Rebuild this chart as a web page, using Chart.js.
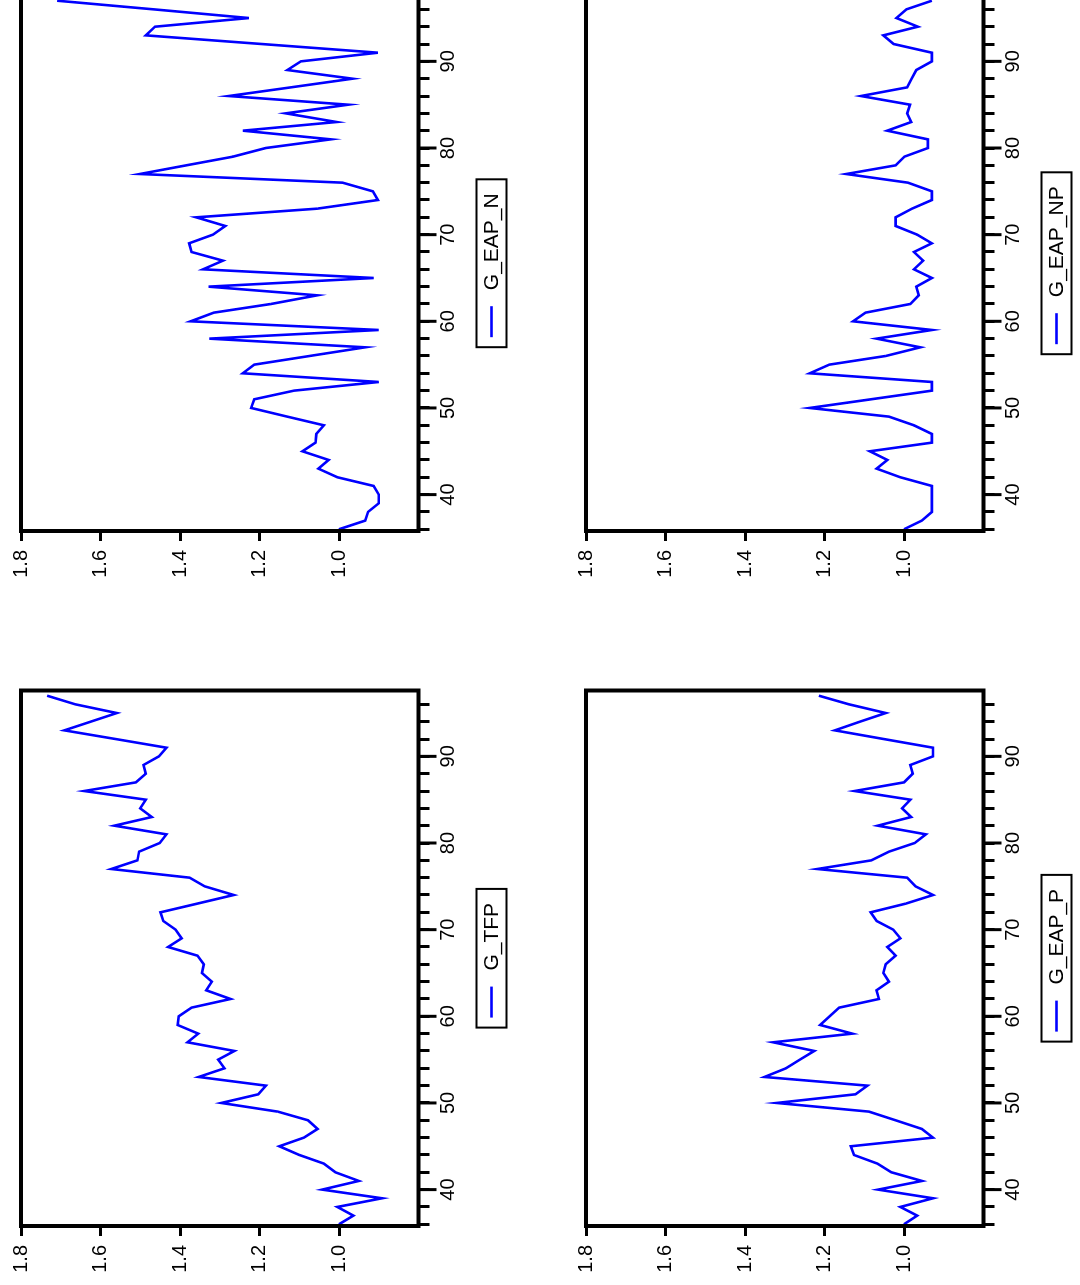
<!DOCTYPE html>
<html>
<head>
<meta charset="utf-8">
<script src="https://cdn.jsdelivr.net/npm/chart.js@4.4.1/dist/chart.umd.min.js"></script>
<style>
  html, body { margin: 0; padding: 0; background: #fff; overflow: hidden; width: 1080px; height: 1285px; }
  #page { position: absolute; left: 0; top: 0; width: 1390px; height: 1130px;
          transform-origin: 0 0; transform: translateY(1285px) rotate(-90deg); }
  canvas { position: absolute; }
</style>
</head>
<body>
<div id="page">
  <canvas id="c_tfp" width="695" height="565" style="left:0px;top:0px"></canvas>
  <canvas id="c_n" width="695" height="565" style="left:695px;top:0px"></canvas>
  <canvas id="c_p" width="695" height="565" style="left:0px;top:565px"></canvas>
  <canvas id="c_np" width="695" height="565" style="left:695px;top:565px"></canvas>
</div>
<script>
// ---- data (years 1936-1997, shown as 36..97) ----
const years = [36,37,38,39,40,41,42,43,44,45,46,47,48,49,50,51,52,53,54,55,
               56,57,58,59,60,61,62,63,64,65,66,67,68,69,70,71,72,73,74,75,
               76,77,78,79,80,81,82,83,84,85,86,87,88,89,90,91,92,93,94,95,96,97];

const gTFP = [1.000,0.964,1.004,0.892,1.042,0.950,1.009,1.038,1.100,1.150,
              1.088,1.054,1.078,1.154,1.296,1.203,1.184,1.353,1.288,1.304,
              1.263,1.381,1.354,1.406,1.403,1.371,1.273,1.334,1.320,1.345,
              1.340,1.356,1.430,1.396,1.411,1.442,1.449,1.357,1.265,1.338,
              1.376,1.573,1.507,1.503,1.451,1.434,1.565,1.471,1.500,1.486,
              1.641,1.511,1.486,1.492,1.453,1.434,1.562,1.691,1.625,1.559,
              1.663,1.734];

const gEAP_N = [1.000,0.934,0.927,0.900,0.900,0.913,1.004,1.052,1.026,1.092,
                1.059,1.057,1.038,1.130,1.221,1.213,1.113,0.900,1.242,1.213,
                1.074,0.934,1.326,0.900,1.373,1.315,1.171,1.055,1.328,0.913,
                1.342,1.292,1.371,1.377,1.317,1.286,1.359,1.055,0.902,0.915,
                0.991,1.501,1.384,1.267,1.184,1.021,1.242,1.006,1.134,0.977,
                1.277,1.121,0.966,1.130,1.096,0.902,1.194,1.486,1.463,1.227,
                1.466,1.709];

const gEAP_P = [1.000,0.967,1.009,0.927,1.065,0.955,1.032,1.067,1.126,1.134,
                0.927,0.955,1.021,1.088,1.320,1.122,1.092,1.351,1.297,1.262,
                1.226,1.329,1.130,1.211,1.187,1.163,1.063,1.069,1.038,1.052,
                1.046,1.021,1.042,1.009,1.027,1.069,1.084,0.996,0.927,0.971,
                0.992,1.218,1.082,1.038,0.973,0.945,1.066,0.982,1.005,0.984,
                1.124,1.000,0.978,0.984,0.927,0.927,1.051,1.174,1.111,1.046,
                1.138,1.214];

const gEAP_NP = [1.000,0.955,0.930,0.930,0.930,0.930,1.009,1.069,1.042,1.086,
                 0.930,0.930,0.975,1.038,1.237,1.083,0.930,0.930,1.237,1.188,
                 1.046,0.959,1.069,0.930,1.128,1.097,0.984,0.963,0.969,0.930,
                 0.975,0.952,0.975,0.930,0.967,1.021,1.021,0.980,0.930,0.930,
                 0.990,1.145,1.021,0.999,0.940,0.940,1.042,0.982,0.992,0.985,
                 1.108,0.992,0.981,0.969,0.930,0.930,1.026,1.052,0.965,1.019,
                 0.994,0.930];

const xMinorTicks = [36,38,40,42,44,46,48,50,52,54,56,58,60,62,64,66,68,70,
                     72,74,76,78,80,82,84,86,88,90,92,94,96];
const xMajorTicks = [40,50,60,70,80,90];
const xTickLabels = ['40','50','60','70','80','90'];
const yTicks = [1.0,1.2,1.4,1.6,1.8];
const yTickLabels = ['1.0','1.2','1.4','1.6','1.8'];

const FONT = '"Liberation Sans", Arial, Helvetica, sans-serif';

const framePlugin = {
  id: 'frame',
  afterDatasetsDraw(chart) {
    const ctx = chart.ctx, ca = chart.chartArea;
    ctx.save();
    // major tick extensions
    const xs = chart.scales.x;
    ctx.strokeStyle = '#000';
    ctx.lineWidth = 3;
    xMajorTicks.forEach(v => {
      const px = xs.getPixelForValue(v);
      ctx.beginPath();
      ctx.moveTo(px, ca.bottom);
      ctx.lineTo(px, ca.bottom + 18);
      ctx.stroke();
    });
    // frame
    ctx.lineWidth = 4;
    ctx.strokeRect(ca.left, ca.top, ca.right - ca.left, ca.bottom - ca.top);
    ctx.restore();
  },
  afterDraw(chart) {
    const ctx = chart.ctx, ca = chart.chartArea;
    const name = chart.data.datasets[0].label;
    ctx.save();
    ctx.font = '21px ' + FONT;
    const tw = ctx.measureText(name).width;
    const padL = 10, lineLen = 31, gap = 16, padR = 14, h = 30;
    const w = padL + lineLen + gap + tw + padR;
    const x0 = (ca.left + ca.right) / 2 - w / 2;
    const y0 = 476.5;
    ctx.strokeStyle = '#000';
    ctx.lineWidth = 2;
    ctx.strokeRect(x0, y0, w, h);
    ctx.strokeStyle = '#0000ff';
    ctx.lineWidth = 2.6;
    ctx.beginPath();
    ctx.moveTo(x0 + padL, y0 + h / 2);
    ctx.lineTo(x0 + padL + lineLen, y0 + h / 2);
    ctx.stroke();
    ctx.fillStyle = '#000';
    ctx.textBaseline = 'middle';
    ctx.textAlign = 'left';
    ctx.fillText(name, x0 + padL + lineLen + gap, y0 + h / 2 + 1);
    ctx.restore();
  }
};

function makeChart(id, name, vals) {
  return new Chart(document.getElementById(id), {
    type: 'line',
    data: {
      datasets: [{
        label: name,
        data: years.map((x, i) => ({ x: x, y: vals[i] })),
        borderColor: '#0000ff',
        borderWidth: 2.6,
        pointRadius: 0,
        tension: 0,
        fill: false
      }]
    },
    options: {
      responsive: false,
      animation: false,
      devicePixelRatio: 1,
      layout: { padding: { left: 0, top: 18.5, right: 100.5, bottom: 0 } },
      plugins: { legend: { display: false }, tooltip: { enabled: false } },
      scales: {
        x: {
          type: 'linear', min: 35.8, max: 97.6,
          afterBuildTicks: s => { s.ticks = xMinorTicks.map(v => ({ value: v })); },
          afterFit: s => { s.height = 146.5; },
          grid: { display: true, drawOnChartArea: false, drawTicks: true,
                  tickLength: 11, tickWidth: 3, tickColor: '#000' },
          border: { display: false },
          ticks: {
            autoSkip: false, maxRotation: 0, minRotation: 0, padding: 7, color: '#000',
            font: { family: FONT, size: 20 },
            callback: v => { const k = xMajorTicks.indexOf(v); return k >= 0 ? xTickLabels[k] : ''; }
          }
        },
        y: {
          type: 'linear', min: 0.8, max: 1.8,
          afterBuildTicks: s => { s.ticks = yTicks.map(v => ({ value: v })); },
          afterFit: s => { s.width = 59; },
          grid: { display: true, drawOnChartArea: false, drawTicks: true,
                  tickLength: 10, tickWidth: 3, tickColor: '#000' },
          border: { display: false },
          ticks: {
            padding: 9, color: '#000',
            font: { family: FONT, size: 20 },
            callback: v => { const k = yTicks.findIndex(t => Math.abs(t - v) < 1e-9); return k >= 0 ? yTickLabels[k] : ''; }
          }
        }
      }
    },
    plugins: [framePlugin]
  });
}

makeChart('c_tfp', 'G_TFP', gTFP);
makeChart('c_n', 'G_EAP_N', gEAP_N);
makeChart('c_p', 'G_EAP_P', gEAP_P);
makeChart('c_np', 'G_EAP_NP', gEAP_NP);
</script>
</body>
</html>
